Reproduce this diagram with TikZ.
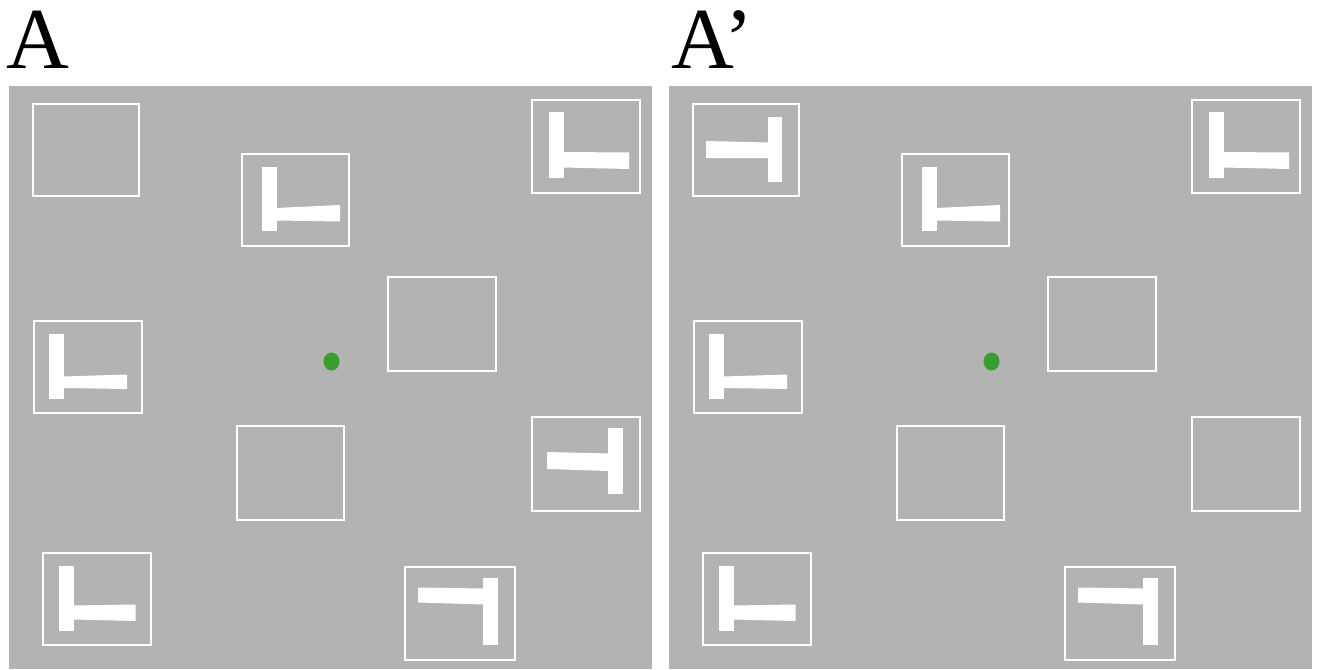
\documentclass[tikz,border=0pt]{standalone}
\usepackage{fontspec}
\setmainfont{Liberation Serif}
\definecolor{panelgray}{RGB}{179,179,179}
\definecolor{fixgreen}{RGB}{58,157,48}

\begin{document}
\begin{tikzpicture}[x=1pt,y=-1pt,
  panel/.style={fill=panelgray},
  frame/.style={draw=white,line width=1.8pt},
  bar/.style={fill=white},
  fixdot/.style={fill=fixgreen},
  panellabel/.style={font=\fontsize{87}{87}\selectfont,anchor=base west,inner sep=0pt}]

\useasboundingbox (0,0) rectangle (1321,669);

% panel titles
\node[panellabel] (labA) at (6,68) {A};
\node[panellabel] (labB) at (671,68) {A’};

% grey display panels
\fill[panel] (9,86) rectangle (652,669);
\fill[panel] (669,86) rectangle (1312,669);

% items common to both displays
\foreach \dx in {0,660}{
  \begin{scope}[xshift=\dx pt]
    % frames
    \draw[frame] (33,104) rectangle (139,196);
    \draw[frame] (242,154) rectangle (349,246);
    \draw[frame] (532,100) rectangle (640,193);
    \draw[frame] (34,321) rectangle (142,413);
    \draw[frame] (388,277) rectangle (496,371);
    \draw[frame] (237,426) rectangle (344,520);
    \draw[frame] (532,417) rectangle (640,511);
    \draw[frame] (43,553) rectangle (151,645);
    \draw[frame] (405,567) rectangle (515,660);
    % rotated T shapes
    \fill[bar] (262,167) rectangle (277,231);
    \fill[bar] (276,208) -- (340,205) -- (340,221.5) -- (276,220.5) -- cycle;
    \fill[bar] (549,112) rectangle (564,178);
    \fill[bar] (563,152) -- (629,152.5) -- (629,169) -- (563,167.5) -- cycle;
    \fill[bar] (49,334) rectangle (64,399);
    \fill[bar] (63,376.5) -- (127,374.5) -- (127,389) -- (63,388) -- cycle;
    \fill[bar] (58.5,566) rectangle (74,630.5);
    \fill[bar] (73,605.5) -- (135.5,604.5) -- (135.5,621) -- (73,619.5) -- cycle;
    \fill[bar] (483,578) rectangle (498,645);
    \fill[bar] (418,587.5) -- (484,588.5) -- (484,604.5) -- (418,602.5) -- cycle;
    % fixation point
    \fill[fixdot] (331.5,361.5) ellipse [x radius=8, y radius=9];
  \end{scope}
}

% item only in display A
\fill[bar] (608,428) rectangle (623,494);
\fill[bar] (547,452) -- (609,453.5) -- (609,471) -- (547,469) -- cycle;

% item only in display A’
\fill[bar] (768,117) rectangle (782,182);
\fill[bar] (706,141) -- (769,142.5) -- (769,158) -- (706,158) -- cycle;

\end{tikzpicture}
\end{document}
